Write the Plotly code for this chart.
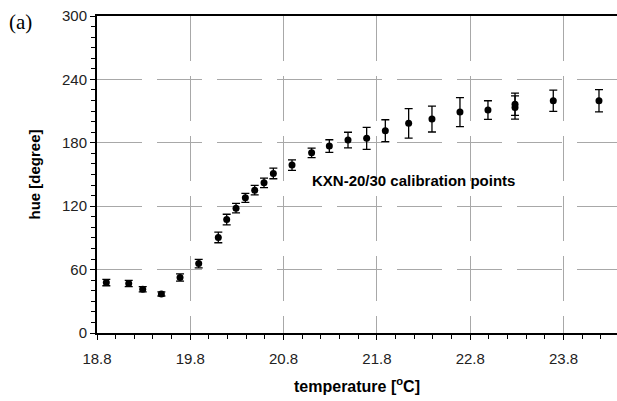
import plotly.graph_objects as go

temperature = [18.9, 19.14, 19.29, 19.49, 19.69, 19.89, 20.10, 20.19, 20.29, 20.39,
               20.49, 20.59, 20.69, 20.89, 21.10, 21.29, 21.49, 21.69, 21.89, 22.14,
               22.39, 22.69, 22.99, 23.28, 23.28, 23.69, 24.18]
hue = [47.7, 46.8, 41.4, 37.0, 52.5, 65.7, 90.4, 107.4, 118.1, 127.9,
       135.2, 142.1, 151.0, 158.9, 170.5, 176.9, 182.6, 184.2, 191.4, 198.4,
       202.5, 209.1, 211.0, 216.5, 213.5, 219.8, 219.8]
hue_err = [3, 3, 2.5, 2, 3.5, 4, 5, 5, 4.5, 4.3,
           4.5, 4.5, 5, 5, 4.5, 6, 7.4, 10.4, 10.4, 14,
           12.3, 13.7, 8.8, 10.5, 11, 10, 10.6]

x_ticks = [18.8, 19.8, 20.8, 21.8, 22.8, 23.8]
y_ticks = [0, 60, 120, 180, 240, 300]

SANS = "Liberation Sans, Arial"

fig = go.Figure()
fig.add_trace(go.Scatter(
    x=temperature, y=hue, mode="markers",
    marker=dict(color="black", size=7),
    error_y=dict(type="data", array=hue_err, visible=True, color="black",
                 thickness=1.3, width=4),
    showlegend=False,
))

grid = dict(showgrid=True, gridcolor="#a8a8a8", gridwidth=1, griddash="45px,15px")

fig.update_xaxes(
    range=[18.8, 24.373], tickvals=x_ticks, ticktext=[f"{v:.1f}" for v in x_ticks],
    showline=True, linecolor="black", linewidth=2, mirror=True,
    ticks="outside", ticklen=5, tickcolor="black", tickwidth=1,
    minor=dict(dtick=0.2, tick0=18.8, ticks="outside", ticklen=4, tickcolor="black", showgrid=False),
    zeroline=False, automargin=False,
    tickfont=dict(family=SANS, size=15, color="#222"),
    ticklabelstandoff=6,
    title=dict(text="<b>temperature [<sup>o</sup>C]</b>",
               font=dict(family=SANS, size=16, color="black"), standoff=15),
    **grid,
)
fig.update_yaxes(
    range=[0, 300], tickvals=y_ticks,
    showline=True, linecolor="black", linewidth=2,
    ticks="outside", ticklen=5, tickcolor="black", tickwidth=1,
    minor=dict(dtick=10, tick0=0, ticks="outside", ticklen=4, tickcolor="black", showgrid=False),
    zeroline=False, automargin=False,
    tickfont=dict(family=SANS, size=15, color="#222"),
    title=dict(text="<b>hue [degree]</b>", font=dict(family=SANS, size=15, color="black"), standoff=18),
    **grid,
)

fig.add_annotation(x=21.08, y=144.7, xanchor="left", yanchor="middle",
                   text="<b>KXN-20/30 calibration points</b>", showarrow=False,
                   font=dict(family=SANS, size=15, color="black"))
fig.add_annotation(xref="paper", yref="paper", x=-0.173, y=0.982,
                   xanchor="left", yanchor="middle", text="(a)", showarrow=False,
                   font=dict(family="Liberation Serif, Times New Roman", size=21, color="black"))

fig.update_layout(
    width=617, height=401,
    margin=dict(l=97, r=0, t=16, b=68),
    plot_bgcolor="white", paper_bgcolor="white",
)

fig.write_html("out.html", config={"displayModeBar": False},
               post_script="document.body.style.margin='0';")
